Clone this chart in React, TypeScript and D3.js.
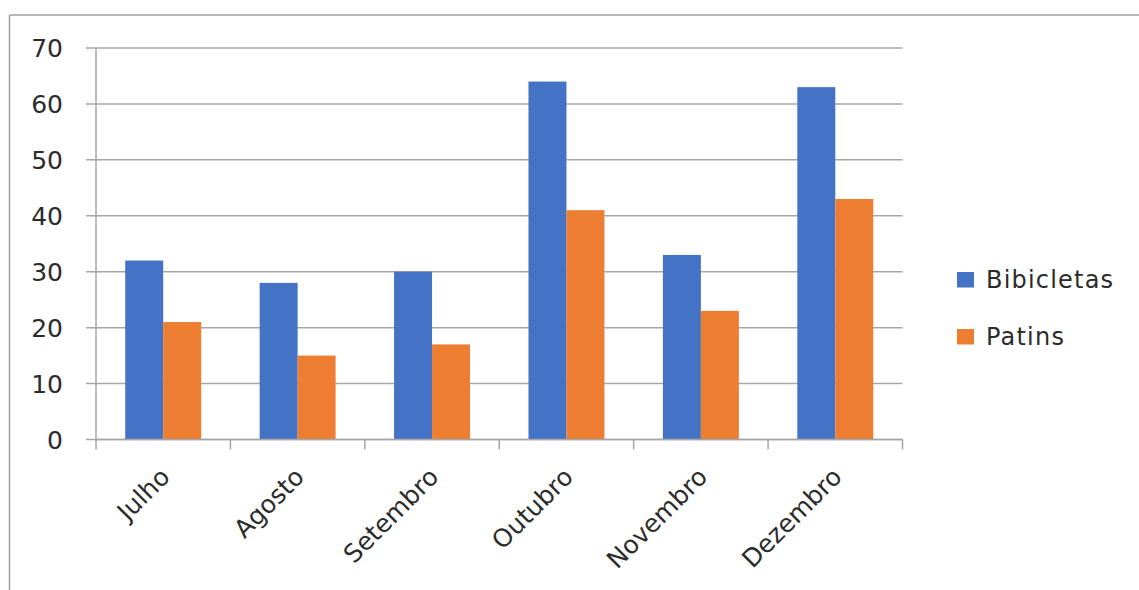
import * as React from "react";
import * as d3 from "d3";

const months = ["Julho", "Agosto", "Setembro", "Outubro", "Novembro", "Dezembro"];
const seriesNames = ["Bibicletas", "Patins"];
const bicicletas = [32, 28, 30, 64, 33, 63];
const patins = [21, 15, 17, 41, 23, 43];
const yTicks = [0, 10, 20, 30, 40, 50, 60, 70];
const colors = ["#4472C4", "#ED7D31"];

const W = 1139;
const H = 590;
const FONT = "'DejaVu Sans', sans-serif";

export default function App() {
  const x0 = d3.scaleBand<string>().domain(months).range([96, 902.5]).padding(0);
  const x1 = d3
    .scaleBand<string>()
    .domain(seriesNames)
    .range([0, x0.bandwidth()])
    .paddingInner(0)
    .paddingOuter(0.77);
  const y = d3.scaleLinear().domain([0, 70]).range([439.5, 48]);

  const values = [bicicletas, patins];
  const left = 96;
  const right = 902.5;

  return (
    <svg
      width={W}
      height={H}
      style={{ position: "absolute", left: 0, top: 0, background: "#fff" }}
    >
      {/* chart border (top and left visible) */}
      <line x1={9.5} x2={W} y1={15} y2={15} stroke="#a0a0a0" strokeWidth={1.5} />
      <line x1={9.5} x2={9.5} y1={15} y2={H} stroke="#a0a0a0" strokeWidth={1.5} />

      {/* gridlines + y ticks */}
      {yTicks.map((t) => (
        <g key={t}>
          <line x1={86} x2={right} y1={y(t)} y2={y(t)} stroke="#a6a6a6" strokeWidth={1.5} />
          <text
            x={63}
            y={y(t)}
            dy="0.36em"
            textAnchor="end"
            fontFamily={FONT}
            fontSize={25}
            fill="#2b2b2b"
          >
            {t}
          </text>
        </g>
      ))}

      {/* bars */}
      {months.map((m, i) => (
        <g key={m} transform={`translate(${x0(m)},0)`}>
          {seriesNames.map((s, j) => (
            <rect
              key={s}
              x={x1(s)}
              y={y(values[j][i])}
              width={x1.bandwidth()}
              height={y(0) - y(values[j][i])}
              fill={colors[j]}
            />
          ))}
        </g>
      ))}

      {/* axes */}
      <line x1={left} x2={left} y1={y(70)} y2={y(0)} stroke="#a6a6a6" strokeWidth={1.5} />
      <line x1={left} x2={right} y1={y(0)} y2={y(0)} stroke="#a6a6a6" strokeWidth={1.5} />
      {months.concat(["end"]).map((m, i) => {
        const tx = left + i * x0.step();
        return (
          <line key={m} x1={tx} x2={tx} y1={y(0)} y2={y(0) + 10} stroke="#a6a6a6" strokeWidth={1.5} />
        );
      })}
      {months.map((m) => {
        const cx = (x0(m) as number) + x0.bandwidth() / 2;
        return (
          <text
            key={m}
            transform={`translate(${cx + 8},478.5) rotate(-45)`}
            textAnchor="end"
            fontFamily={FONT}
            fontSize={25}
            fill="#2b2b2b"
          >
            {m}
          </text>
        );
      })}

      {/* legend */}
      {seriesNames.map((s, j) => (
        <g key={s} transform={`translate(957,${272 + j * 57})`}>
          <rect x={0} y={0} width={17} height={15.5} fill={colors[j]} />
          <text
            x={29}
            y={15.5}
            fontFamily={FONT}
            fontSize={24}
            letterSpacing={1.2}
            fill="#2b2b2b"
          >
            {s}
          </text>
        </g>
      ))}
    </svg>
  );
}
